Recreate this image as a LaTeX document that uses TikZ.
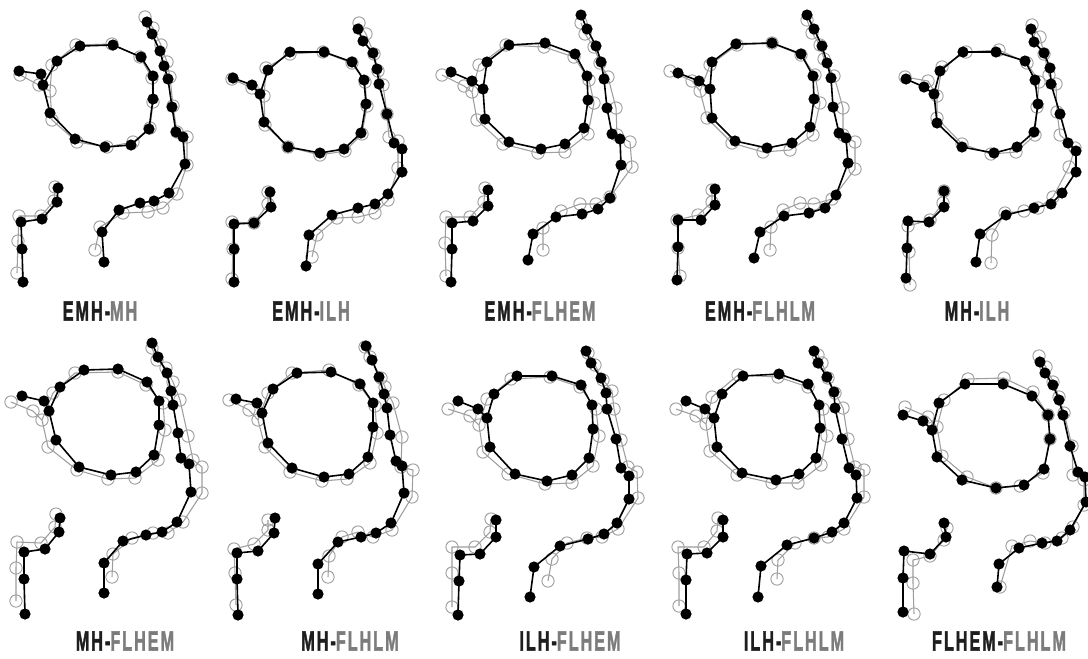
\documentclass[tikz,border=0pt]{standalone}
\usepackage{fontspec}
\usepackage{graphicx}
\newfontfamily\labfont[LetterSpace=12,FakeBold=2]{Liberation Sans Bold}
\definecolor{greyc}{HTML}{9E9E9E}
\definecolor{labblack}{HTML}{1E1E1E}
\definecolor{labgrey}{HTML}{7C7C7C}
\tikzset{
  bdot/.style={circle,fill=black,draw=none,inner sep=0pt,minimum size=8.4pt},
  gdot/.style={circle,draw=greyc,line width=0.7pt,fill=none,inner sep=0pt,minimum size=9.2pt},
  blink/.style={draw=black,line width=1.2pt,line join=round},
  glink/.style={draw=greyc,line width=0.8pt,line join=round},
  lab/.style={font=\fontsize{21}{21}\labfont,text=labblack,inner sep=0pt}
}
\newcommand\makeshape[3]{%
  \foreach \px/\py [count=\k] in {#3} {\node[#2] (#1-\k) at (\px,\py) {};}%
}
\newcommand\linkshape[2]{%
  \draw[#2] (#1-1.center) -- (#1-2.center) -- (#1-3.center);
  \draw[#2] (#1-3.center) \foreach \k in {4,...,14}{ -- (#1-\k.center)} -- cycle;
  \draw[#2] (#1-15.center) \foreach \k in {16,...,29}{ -- (#1-\k.center)};
  \draw[#2] (#1-30.center) \foreach \k in {31,...,35}{ -- (#1-\k.center)};
}
\newcommand\panel[3]{%
  \makeshape{#1g}{gdot}{#3}\linkshape{#1g}{glink}%
  \makeshape{#1b}{bdot}{#2}\linkshape{#1b}{blink}%
}
\begin{document}
\begin{tikzpicture}[x=0.75pt,y=-0.75pt]
\fill[white] (0,0) rectangle (1088,658);
\useasboundingbox (0,0) rectangle (1088,658);
% panel 1 EMH-MH
\panel{pa}{19/71,41/74,43/85,57/61,80/46,113/45,141/57,153/76,153/99,149/129,131/145,105/147,75/139,50/113,
147/22,152/34,160/51,164/66,168/79,172/107,176/132,183/137,185/164,169/193,154/201,140/203,119/210,102/232,104/262,
58/188,57/202,42/219,21/222,22/249,23/282}
{20/75,39/85,50/91,52/65,76/45,112/44,140/57,152/78,153/102,150/128,133/142,107/147,77/142,52/120,
145/17,153/28,161/45,167/62,170/77,173/106,177/132,187/137,187/165,177/194,163/208,148/212,123/213,100/227,95/250,
55/187,54/201,41/216,19/216,18/241,17/273}
% panel 2 EMH-ILH
\panel{pb}{233/78,252/85,260/94,268/70,290/52,324/52,352/62,364/80,366/104,361/133,344/149,320/153,288/147,264/122,
358/29,363/41,373/53,377/69,379/84,387/114,394/143,402/149,402/172,388/194,375/204,358/208,332/215,309/235,306/266,
270/192,271/207,254/223,234/224,234/249,234/282}
{232/79,252/88,264/96,266/68,290/54,323/52,352/63,365/82,367/106,362/134,345/151,320/155,288/147,265/125,
359/23,366/34,374/54,378/71,383/85,387/114,389/137,398/141,398/168,388/200,375/213,358/217,337/218,317/235,312/257,
268/192,268/204,254/223,232/222,233/249,232/279}
% panel 3 EMH-FLHEM
\panel{pc}{451/72,472/81,483/89,487/62,509/45,545/43,575/54,587/76,588/100,584/128,565/144,541/149,509/142,485/119,
581/15,587/29,596/46,601/62,604/79,607/108,612/134,620/139,621/165,610/198,598/209,582/214,556/217,533/234,528/260,
488/190,488/206,473/221,452/223,452/249,451/282}
{442/75,464/86,472/92,479/65,506/45,544/47,574/57,589/80,594/103,588/134,565/152,538/153,503/144,477/120,
581/23,585/34,594/47,600/63,608/77,616/108,617/135,630/142,632/167,610/197,596/204,580/204,561/211,543/228,543/250,
485/188,484/202,470/217,446/217,445/243,446/276}
% panel 4 EMH-FLHLM
\panel{pd}{678/73,699/81,710/89,712/62,736/44,772/43,801/54,813/76,814/99,810/127,792/143,767/148,735/141,712/118,
807/15,814/29,822/46,827/63,831/78,833/107,839/133,846/138,848/163,836/195,825/208,809/213,784/216,760/232,754/258,
715/189,715/205,701/220,678/220,678/247,677/280}
{670/71,692/81,700/91,710/65,737/45,772/43,801/55,815/75,820/103,813/135,790/150,763/152,732/143,707/118,
807/20,812/33,820/45,824/59,834/76,843/108,843/135,855/142,855/169,832/199,814/204,800/203,783/210,771/227,770/250,
712/190,712/202,698/215,677/220,678/248,680/276}
% panel 5 MH-ILH
\panel{pe}{906/79,924/87,934/94,940/71,963/52,996/52,1025/61,1035/80,1038/104,1034/132,1017/147,994/153,962/147,937/123,
1031/29,1034/42,1044/53,1050/68,1051/84,1060/114,1068/143,1076/151,1076/172,1062/193,1051/204,1034/208,1006/215,980/234,976/262,
944/191,944/207,929/222,908/221,907/248,906/278}
{905/77,928/81,937/96,942/67,966/52,999/50,1027/63,1039/82,1037/107,1035/135,1016/152,991/154,962/144,937/118,
1032/25,1040/37,1044/54,1049/75,1056/84,1057/112,1060/135,1075/148,1069/167,1053/197,1038/208,1024/211,1005/213,992/235,991/263,
944/191,943/203,930/220,908/226,909/252,910/285}
% panel 6 MH-FLHEM
\panel{pf}{22/396,44/401,49/411,60/387,84/370,118/369,147/382,159/401,159/425,154/455,136/472,111/475,79/467,56/440,
152/343,158/357,167/373,171/391,173/405,178/433,181/458,189/464,191/492,177/522,162/532,146/535,123/541,104/563,104/593,
60/518,59/532,45/549,24/552,24/579,25/614}
{11/402,33/411,42/420,53/393,75/373,118/372,146/385,163/403,165/430,158/460,135/478,108/479,77/470,48/447,
152/348,157/360,166/368,173/382,180/400,188/436,193/460,202/467,202/493,183/522,168/533,153/533,132/538,113/554,112/577,
56/514,55/527,41/543,17/542,16/568,16/601}
% panel 7 MH-FLHLM
\panel{pg}{236/399,257/403,262/413,273/389,297/373,331/372,360/384,373/403,373/427,368/457,349/474,324/477,292/468,268/443,
366/346,372/360,379/377,384/394,387/408,390/435,396/461,402/466,404/493,391/523,376/533,361/537,338/542,318/564,318/594,
275/518,274/533,258/551,237/553,237/579,238/615}
{229/400,249/410,258/420,268/393,292/373,329/370,359/385,375/406,377/433,370/463,347/479,322/481,290/472,265/447,
365/347,370/357,381/378,385/387,393/403,402/437,401/467,413/470,412/497,392/530,373/537,358/532,342/537,329/556,328/577,
268/520,268/530,254/544,234/549,235/573,236/605}
% panel 8 ILH-FLHEM
\panel{ph}{458/401,478/409,487/418,494/394,517/376,552/376,581/385,592/405,593/429,589/458,572/475,547/481,515/474,490/447,
586/351,591/363,601/378,606/393,607/409,616/439,621/468,629/476,629/499,617/523,604/534,588/539,560/546,534/567,530/597,
496/520,496/537,480/554,460/555,459/581,458/615}
{448/409,470/416,479/425,487/399,511/379,550/377,580/387,596/409,599/436,593/466,572/483,545/484,508/474,483/452,
588/353,595/365,603/380,612/391,614/409,621/440,628/467,637/472,638/498,618/529,602/537,587/538,567/543,552/559,548/581,
491/519,490/532,475/547,452/547,452/573,452/607}
% panel 9 ILH-FLHLM
\panel{pi}{686/401,705/409,714/418,722/394,743/376,779/374,808/384,819/405,820/428,816/458,799/474,776/480,742/473,717/447,
814/351,818/363,827/377,834/392,835/408,842/439,849/468,856/475,857/498,844/523,832/532,814/538,787/545,761/566,758/597,
723/520,723/537,707/553,687/554,686/580,686/614}
{676/409,696/416,706/424,712/397,738/375,778/377,808/387,823/409,827/436,821/465,798/483,772/483,737/475,710/451,
818/355,822/363,828/378,835/393,843/408,848/439,855/467,864/470,864/497,844/529,828/537,814/538,795/543,778/560,777/579,
718/518,717/531,704/547,678/547,679/573,679/606}
% panel 10 FLHEM-FLHLM
\panel{pj}{903/415,923/421,932/430,939/403,965/384,1003/384,1032/396,1048/415,1050/439,1044/469,1024/485,996/488,962/480,937/457,
1040/362,1045/373,1053/385,1059/400,1063/415,1070/446,1078/472,1085/477,1086/502,1070/530,1057/541,1042/543,1019/548,999/564,997/587,
944/523,946/537,930/554,904/551,903/578,903/612}
{905/407,928/417,937/427,944/400,968/379,1004/378,1033/392,1048/415,1050/439,1043/473,1020/486,996/488,967/477,942/456,
1039/356,1046/367,1053/382,1059/397,1064/413,1072/446,1073/475,1084/480,1084/505,1073/527,1062/538,1045/543,1030/541,1012/546,1000/587,
947/528,944/540,930/556,913/560,913/583,914/614}
% labels
\node[lab] (l1) at (100,311) {\scalebox{0.58}[1]{EMH-\textcolor{labgrey}{MH}}};
\node[lab] (l2) at (311,311) {\scalebox{0.58}[1]{EMH-\textcolor{labgrey}{ILH}}};
\node[lab] (l3) at (540,311) {\scalebox{0.58}[1]{EMH-\textcolor{labgrey}{FLHEM}}};
\node[lab] (l4) at (760,311) {\scalebox{0.58}[1]{EMH-\textcolor{labgrey}{FLHLM}}};
\node[lab] (l5) at (977,311) {\scalebox{0.58}[1]{MH-\textcolor{labgrey}{ILH}}};
\node[lab] (l6) at (125,641) {\scalebox{0.58}[1]{MH-\textcolor{labgrey}{FLHEM}}};
\node[lab] (l7) at (350,641) {\scalebox{0.58}[1]{MH-\textcolor{labgrey}{FLHLM}}};
\node[lab] (l8) at (570,641) {\scalebox{0.58}[1]{ILH-\textcolor{labgrey}{FLHEM}}};
\node[lab] (l9) at (794,641) {\scalebox{0.58}[1]{ILH-\textcolor{labgrey}{FLHLM}}};
\node[lab] (l10) at (999,641) {\scalebox{0.58}[1]{FLHEM-\textcolor{labgrey}{FLHLM}}};
\end{tikzpicture}
\end{document}
